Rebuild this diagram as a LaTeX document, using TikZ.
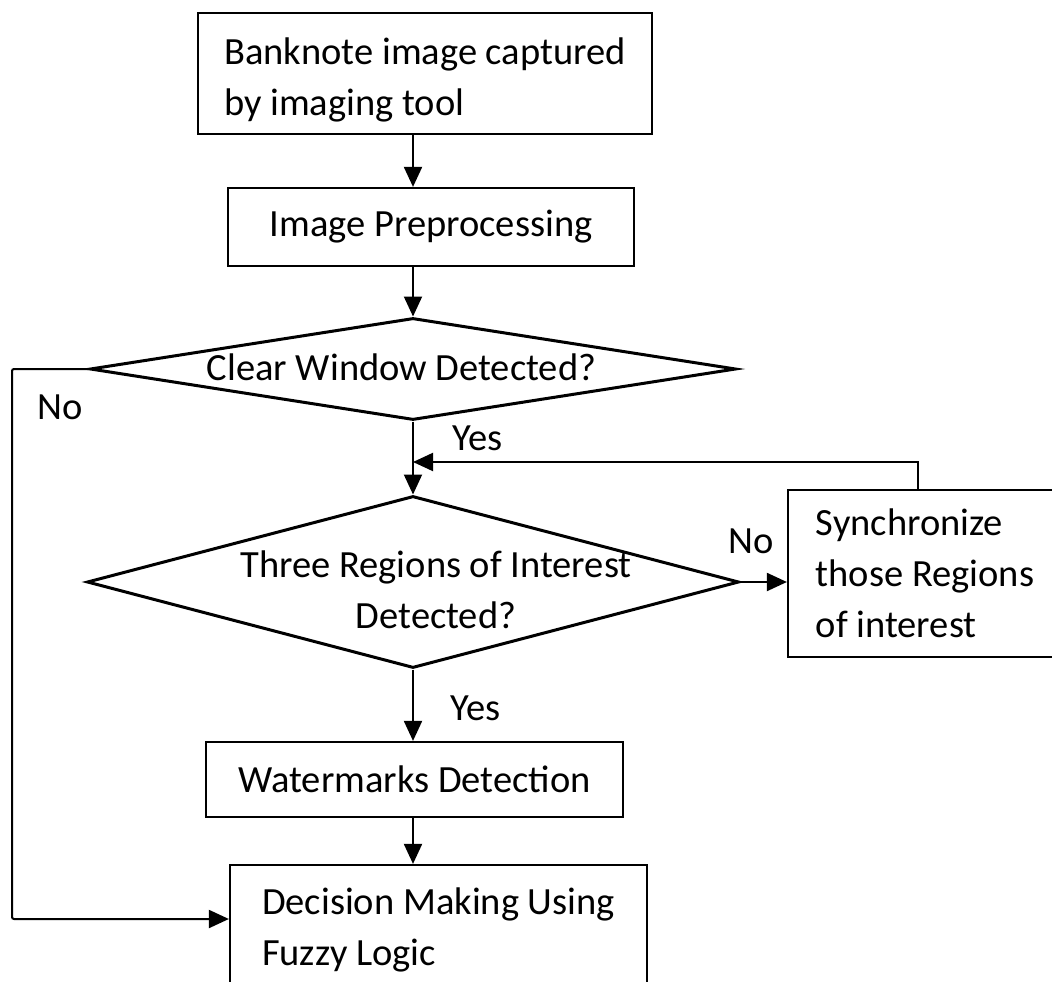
\documentclass[tikz,border=0pt]{standalone}
\usepackage{fontspec}
\setmainfont{Carlito}
\usetikzlibrary{arrows.meta,shapes.geometric}
\newcommand{\fsz}{\fontsize{38.5}{51}\selectfont}
\begin{document}
\begin{tikzpicture}[x=1pt,y=-1pt,
  box/.style={draw, line width=2.2pt, rectangle, align=left, inner sep=0pt, font=\fsz},
  dia/.style={draw, line width=3pt, diamond, inner sep=0pt},
  lbl/.style={font=\fsz, inner sep=0pt},
  arr/.style={line width=2pt, -{Triangle[length=20pt,width=18pt]}},
  ]
\useasboundingbox (0,0) rectangle (1052,982);
\fill[white] (0,0) rectangle (1052,982);

\node[box, minimum width=454pt, minimum height=121pt] (b1) at (425,73.5) {\rule{0pt}{0pt}\vphantom{B}\smash{\raisebox{-4pt}{Banknote image captured}}\\\smash{\raisebox{-4pt}{by imaging tool}}};
\node[box, minimum width=406pt, minimum height=78pt] (b2) at (431,227) {Image Preprocessing};
\node[dia, minimum width=646pt, minimum height=102pt] (d1) at (413,369) {};
\node[lbl, anchor=base] (t1) at (401.5,380) {Clear Window Detected?};
\node[dia, minimum width=652pt, minimum height=172pt] (d2) at (413,582) {};
\node[lbl, align=center] (t2) at (436,590) {Three Regions of Interest\\Detected?};
\node[box, minimum width=274pt, minimum height=167pt] (sync) at (925,573.5) {Synchronize\\those Regions\\of interest};
\node[box, minimum width=417pt, minimum height=75pt] (wm) at (414.5,779.5) {Watermarks Detection};
\node[box, minimum width=417pt, minimum height=130pt] (dec) at (438.5,930) {Decision Making Using\\Fuzzy Logic};

\node[lbl, anchor=base west] (no1) at (37,419) {No};
\node[lbl, anchor=base west] (yes1) at (452,450) {Yes};
\node[lbl, anchor=base west] (no2) at (728,553) {No};
\node[lbl, anchor=base west] (yes2) at (450,720) {Yes};

\coordinate (j) at (413,462);
\coordinate (ld) at (12,919);

\draw[arr] (b1.south -| d1.north) -- (b2.north -| d1.north);
\draw[arr] (b2.south -| d1.north) -- (d1.north);
\draw[arr] (d1.south) -- (d2.north);
\draw[arr] ([xshift=-7pt]sync.north) |- (j);
\draw[arr] (d2.east) -- (sync.west |- d2.east);
\draw[arr] (d2.south) -- (d2.south |- wm.north);
\draw[arr] (wm.south -| d2.south) -- (dec.north -| d2.south);
\draw[arr, rounded corners=2pt] (d1.west) -| (ld) -- (ld -| dec.west);
\end{tikzpicture}
\end{document}
